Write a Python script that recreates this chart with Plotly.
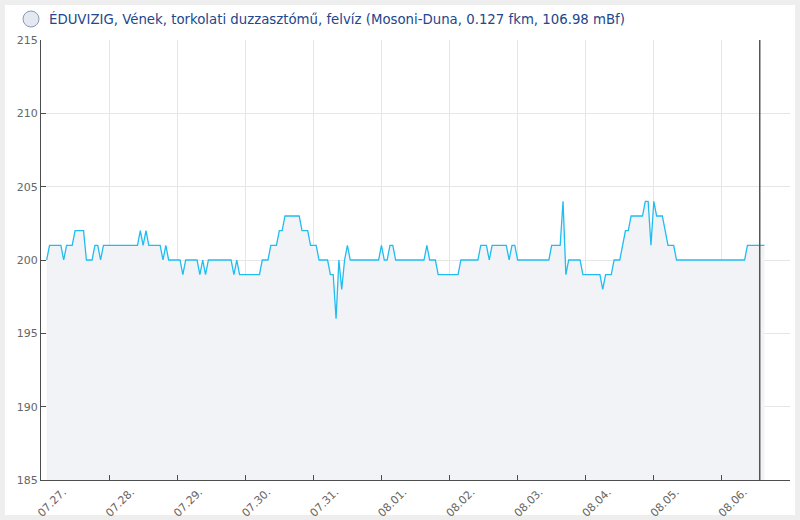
import plotly.graph_objects as go
import pandas as pd

title = "ÉDUVIZIG, Vének, torkolati duzzasztómű, felvíz (Mosoni-Duna, 0.127 fkm, 106.98 mBf)"

# hourly readings, first one at 02:00 on 07.27.
first_reading = "2024-07-27 02:00"
now_marker = "2024-08-06 13:20"

# water level (cm), one line per day
level = [
    200, 201, 201, 201, 201, 201, 200, 201, 201, 201, 202, 202, 202, 202, 200, 200, 200, 201, 201, 200, 201, 201,
    201, 201, 201, 201, 201, 201, 201, 201, 201, 201, 201, 202, 201, 202, 201, 201, 201, 201, 201, 200, 201, 200, 200, 200,
    200, 200, 199, 200, 200, 200, 200, 200, 199, 200, 199, 200, 200, 200, 200, 200, 200, 200, 200, 200, 199, 200, 199, 199,
    199, 199, 199, 199, 199, 199, 200, 200, 200, 201, 201, 201, 202, 202, 203, 203, 203, 203, 203, 203, 202, 202, 202, 201,
    201, 201, 200, 200, 200, 200, 199, 199, 196, 200, 198, 200, 201, 200, 200, 200, 200, 200, 200, 200, 200, 200, 200, 200,
    201, 200, 200, 201, 201, 200, 200, 200, 200, 200, 200, 200, 200, 200, 200, 200, 201, 200, 200, 200, 199, 199, 199, 199,
    199, 199, 199, 199, 200, 200, 200, 200, 200, 200, 200, 201, 201, 201, 200, 201, 201, 201, 201, 201, 201, 200, 201, 201,
    200, 200, 200, 200, 200, 200, 200, 200, 200, 200, 200, 200, 201, 201, 201, 201, 204, 199, 200, 200, 200, 200, 200, 199,
    199, 199, 199, 199, 199, 199, 198, 199, 199, 199, 200, 200, 200, 201, 202, 202, 203, 203, 203, 203, 203, 204, 204, 201,
    204, 203, 203, 203, 202, 201, 201, 201, 200, 200, 200, 200, 200, 200, 200, 200, 200, 200, 200, 200, 200, 200, 200, 200,
    200, 200, 200, 200, 200, 200, 200, 200, 200, 201, 201, 201, 201, 201, 201, 201,
]

day_ticks = ["2024-07-27", "2024-07-28", "2024-07-29", "2024-07-30", "2024-07-31", "2024-08-01",
             "2024-08-02", "2024-08-03", "2024-08-04", "2024-08-05", "2024-08-06", "2024-08-07"]
day_labels = ["07.27.", "07.28.", "07.29.", "07.30.", "07.31.", "08.01.",
              "08.02.", "08.03.", "08.04.", "08.05.", "08.06.", ""]
y_ticks = [185, 190, 195, 200, 205, 210, 215]

times = pd.date_range(first_reading, periods=len(level), freq="h")

fig = go.Figure()
fig.add_trace(go.Scatter(
    x=times, y=level, mode="lines",
    line=dict(color="#1fbdf0", width=1.3),
    fill="tozeroy", fillcolor="#f2f3f7",
    hoverinfo="x+y",
))

axis_font = dict(family="DejaVu Sans", size=11, color="#666666")

fig.update_layout(
    width=800, height=520,
    margin=dict(l=41, r=10, t=40, b=40, autoexpand=False),
    paper_bgcolor="#eeeeee",
    plot_bgcolor="white",
    showlegend=False,
    title=dict(
        text=title, xref="container", x=49 / 800, xanchor="left",
        y=1 - 19 / 520, yanchor="middle",
        font=dict(family="DejaVu Sans", size=13.3, color="#23468c"),
    ),
    xaxis=dict(
        range=[day_ticks[0], day_ticks[-1]],
        tickvals=day_ticks, ticktext=day_labels, tickangle=-45,
        ticks="inside", ticklen=5, tickcolor="#4d4d4d",
        showline=True, linecolor="#4d4d4d", linewidth=1.3,
        showgrid=True, gridcolor="#e6e6e6",
        tickfont=axis_font, ticklabelshift=22, automargin=False,
    ),
    yaxis=dict(
        range=[185, 215], tickvals=y_ticks,
        ticks="inside", ticklen=5, tickcolor="#4d4d4d",
        showline=True, linecolor="#4d4d4d", linewidth=1.3,
        showgrid=True, gridcolor="#e6e6e6", zeroline=False,
        tickfont=axis_font, automargin=False,
    ),
    shapes=[
        # white card behind the chart
        dict(type="rect", xref="paper", yref="paper",
             x0=(5 - 41) / 749, x1=(795 - 41) / 749,
             y0=(480 - 515) / 440, y1=(480 - 5) / 440,
             fillcolor="white", line=dict(width=0), layer="below"),
        # logo placeholder
        dict(type="circle", xref="paper", yref="paper",
             x0=(23 - 41) / 749, x1=(39 - 41) / 749,
             y0=(480 - 27) / 440, y1=(480 - 11) / 440,
             fillcolor="#e3e8f1", line=dict(color="#8a9ab6", width=1)),
        # current time marker
        dict(type="line", xref="x", yref="paper", x0=now_marker, x1=now_marker,
             y0=0, y1=1, line=dict(color="#555555", width=1.5)),
    ],
)

fig.write_html(
    "out.html",
    config={"displayModeBar": False},
    post_script="document.body.style.margin='0';document.body.style.overflow='hidden';",
)
